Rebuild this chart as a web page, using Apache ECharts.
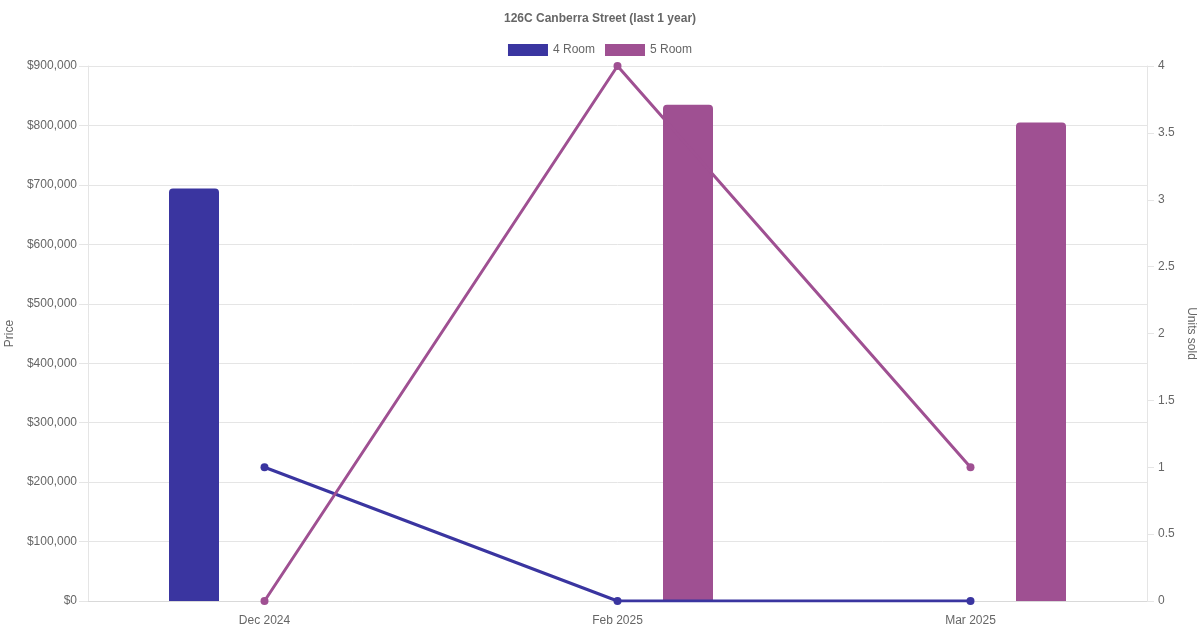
<!DOCTYPE html>
<html>
<head>
<meta charset="utf-8">
<script src="https://cdn.jsdelivr.net/npm/echarts@6/dist/echarts.min.js"></script>
<style>html,body{margin:0;padding:0;background:#fff}#c{width:1200px;height:630px}</style>
</head>
<body>
<div id="c"></div>
<script>
const categories = ['Dec 2024', 'Feb 2025', 'Mar 2025'];
const price4Room = [694000, null, null];
const price5Room = [null, 835000, 805000];
const units4Room = [1, 0, 0];
const units5Room = [0, 4, 1];

const C4 = '#3a35a0';
const C5 = '#9f5092';
const FONT = 'Liberation Sans';
const TXT = '#666';

const chart = echarts.init(document.getElementById('c'));
chart.setOption({
  animation: false,
  textStyle: { fontFamily: FONT },
  title: {
    text: '126C Canberra Street (last 1 year)',
    left: 'center', top: 8,
    textStyle: { fontSize: 12, fontWeight: 'bold', color: TXT, fontFamily: FONT }
  },
  legend: {
    top: 39, left: 'center',
    itemWidth: 40, itemHeight: 12, itemGap: 10,
    textStyle: { fontSize: 12, color: TXT, fontFamily: FONT },
    data: [{ name: '4 Room', icon: 'rect' }, { name: '5 Room', icon: 'rect' }]
  },
  grid: { left: 88, right: 53, top: 66, bottom: 29, containLabel: false, outerBoundsMode: 'none' },
  xAxis: {
    type: 'category', data: categories,
    axisLine: { lineStyle: { color: '#d9d9d9' } },
    axisTick: { show: false },
    axisLabel: { color: TXT, fontSize: 12, margin: 14, fontFamily: FONT },
    splitLine: { show: false }
  },
  yAxis: [
    {
      type: 'value', min: 0, max: 900000, interval: 100000,
      name: 'Price', nameLocation: 'middle', nameGap: 63, nameRotate: 90,
      nameTextStyle: { color: TXT, fontSize: 12, fontFamily: FONT },
      axisLine: { show: true, lineStyle: { color: '#e5e5e5' } },
      axisTick: { show: true, length: 9, lineStyle: { color: '#e5e5e5' } },
      axisLabel: {
        color: TXT, fontSize: 12, margin: 11, fontFamily: FONT,
        formatter: v => '$' + v.toLocaleString('en-US')
      },
      splitLine: { lineStyle: { color: '#e5e5e5' } }
    },
    {
      type: 'value', min: 0, max: 4, interval: 0.5, position: 'right',
      name: 'Units sold', nameLocation: 'middle', nameGap: 27, nameRotate: -90,
      nameTextStyle: { color: TXT, fontSize: 12, fontFamily: FONT },
      axisLine: { show: true, lineStyle: { color: '#e5e5e5' } },
      axisTick: { show: true, length: 7, lineStyle: { color: '#e5e5e5' } },
      axisLabel: { color: TXT, fontSize: 12, margin: 11, fontFamily: FONT },
      splitLine: { show: false }
    }
  ],
  series: [
    {
      name: '4 Room', type: 'bar', yAxisIndex: 0, data: price4Room,
      barWidth: 50, barGap: '182%',
      itemStyle: { color: C4, borderRadius: [4, 4, 0, 0] }, z: 2
    },
    {
      name: '5 Room', type: 'bar', yAxisIndex: 0, data: price5Room,
      barWidth: 50, barGap: '182%',
      itemStyle: { color: C5, borderRadius: [4, 4, 0, 0] }, z: 2
    },
    {
      name: '4 Room', type: 'line', yAxisIndex: 1, data: units4Room,
      symbol: 'circle', symbolSize: 8, showAllSymbol: true,
      lineStyle: { color: C4, width: 3 }, itemStyle: { color: C4 }, z: 3
    },
    {
      name: '5 Room', type: 'line', yAxisIndex: 1, data: units5Room,
      symbol: 'circle', symbolSize: 8, showAllSymbol: true,
      lineStyle: { color: C5, width: 3 }, itemStyle: { color: C5 }, z: 3
    }
  ]
});
</script>
</body>
</html>
